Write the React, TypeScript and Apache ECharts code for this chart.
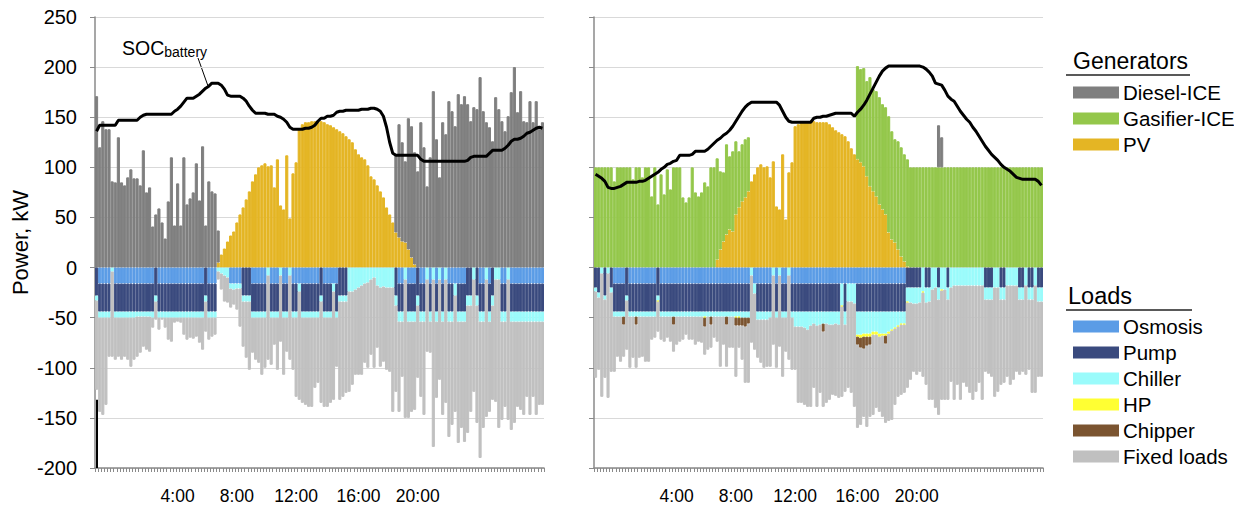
import React, { useEffect, useRef } from "react";
import * as echarts from "echarts";

const FONT = '"Liberation Sans", Arial, Helvetica, sans-serif';

// 144 ten-minute slots per day
const categories = Array.from({ length: 144 }, (_, i) => `${Math.floor(i / 6)}:${String((i % 6) * 10).padStart(2, "0")}`);
const tickLabels = ["4:00", "8:00", "12:00", "16:00", "20:00"];
const tickLabelIndex = [26, 45, 64, 84, 103];

// ---------------- LEFT PANEL ----------------
const leftDiesel = [
  171, 120, 146, 138, 138, 86, 85, 130, 85, 82, 90, 98,
  89, 89, 82, 117, 75, 80, 41, 53, 59, 45, 29, 66,
  110, 42, 84, 42, 110, 63, 69, 75, 104, 67, 121, 42,
  86, 76, 74, 32, 0, 0, 0, 0, 0, 0, 0, 0,
  0, 0, 0, 0, 0, 0, 0, 0, 0, 0, 0, 0,
  0, 0, 0, 0, 0, 0, 0, 0, 0, 0, 0, 0,
  0, 0, 0, 0, 0, 0, 0, 0, 0, 0, 0, 0,
  0, 0, 0, 0, 0, 0, 0, 0, 0, 0, 0, 0,
  78, 113, 99, 81, 131, 131, 112, 96, 145, 120, 81, 110,
  176, 128, 90, 145, 133, 166, 156, 141, 173, 163, 171, 163,
  146, 160, 158, 190, 156, 145, 140, 126, 170, 158, 146, 136,
  151, 175, 200, 155, 176, 146, 145, 166, 145, 166, 138, 145,
];
const leftPV = [
  0, 0, 0, 0, 0, 0, 0, 0, 0, 0, 0, 0,
  0, 0, 0, 0, 0, 0, 0, 0, 0, 0, 0, 0,
  0, 0, 0, 0, 0, 0, 0, 0, 0, 0, 0, 0,
  0, 0, 0, 5, 13, 19, 26, 32, 36, 45, 53, 60,
  68, 76, 86, 93, 100, 102, 104, 101, 102, 80, 108, 62,
  58, 112, 49, 94, 105, 138, 143, 145, 145, 146, 146, 146,
  146, 145, 143, 142, 140, 138, 136, 134, 131, 128, 125, 118,
  113, 110, 108, 102, 91, 88, 82, 76, 70, 60, 53, 45,
  35, 30, 26, 25, 18, 10, 3, 0, 0, 0, 0, 0,
  0, 0, 0, 0, 0, 0, 0, 0, 0, 0, 0, 0,
  0, 0, 0, 0, 0, 0, 0, 0, 0, 0, 0, 0,
  0, 0, 0, 0, 0, 0, 0, 0, 0, 0, 0, 0,
];
const leftSOC = [
  136, 142, 142, 142, 142, 142, 142, 147, 147, 147, 147, 147,
  147, 147, 150, 152, 153, 153, 153, 153, 153, 153, 153, 153,
  153, 156, 158, 161, 165, 169, 169, 169, 171, 173, 176, 179,
  181, 184, 184, 184, 182, 178, 172, 171, 171, 171, 171, 169,
  166, 161, 157, 154, 154, 154, 154, 153, 153, 153, 151, 150,
  148, 145, 140, 138, 138, 138, 138, 139, 139, 140, 142, 146,
  149, 149, 151, 151, 152, 155, 156, 156, 157, 157, 157, 157,
  157, 158, 158, 158, 159, 159, 158, 156, 151, 140, 125, 114,
  112, 112, 112, 112, 112, 112, 112, 112, 108, 106, 106, 106,
  106, 106, 106, 106, 106, 106, 106, 106, 106, 106, 106, 107,
  110, 111, 111, 111, 111, 111, 114, 117, 117, 117, 117, 119,
  122, 126, 128, 128, 129, 131, 134, 135, 137, 139, 140, 139,
];
const leftLoadTotal = [
  122, 144, 147, 137, 89, 89, 92, 89, 92, 89, 92, 99,
  92, 89, 85, 79, 82, 84, 60, 52, 62, 52, 60, 72,
  74, 55, 54, 55, 67, 72, 70, 71, 69, 75, 82, 64,
  72, 69, 67, 12, 22, 34, 35, 40, 37, 42, 59, 79,
  90, 102, 85, 92, 95, 107, 100, 92, 97, 77, 102, 74,
  107, 84, 92, 102, 129, 132, 135, 137, 139, 139, 120, 115,
  135, 139, 139, 135, 132, 99, 132, 129, 125, 124, 117, 107,
  107, 107, 95, 100, 87, 100, 80, 99, 94, 102, 104, 144,
  124, 144, 109, 150, 150, 144, 142, 110, 129, 147, 84, 85,
  179, 130, 112, 147, 135, 169, 157, 144, 175, 160, 174, 165,
  144, 124, 155, 190, 160, 149, 144, 132, 134, 160, 152, 139,
  152, 162, 155, 139, 142, 147, 129, 147, 129, 147, 137, 137,
];
const leftOsmosis = [
  0, 16, 16, 16, 16, 0, 16, 16, 16, 16, 16, 16,
  16, 16, 16, 16, 16, 16, 16, 0, 16, 16, 16, 16,
  16, 16, 16, 16, 16, 16, 16, 16, 16, 16, 16, 0,
  16, 16, 16, 0, 0, 0, 0, 16, 16, 16, 16, 0,
  0, 0, 16, 16, 16, 16, 16, 0, 16, 16, 16, 0,
  16, 16, 0, 16, 16, 16, 16, 16, 16, 16, 16, 16,
  0, 16, 16, 16, 16, 16, 0, 0, 0, 0, 0, 0,
  0, 0, 0, 0, 0, 0, 0, 0, 0, 0, 0, 0,
  0, 16, 16, 0, 16, 16, 16, 0, 16, 16, 0, 16,
  0, 16, 0, 16, 0, 16, 16, 16, 16, 16, 16, 0,
  0, 0, 0, 16, 16, 0, 16, 0, 0, 0, 16, 16,
  0, 16, 16, 16, 16, 16, 16, 16, 16, 16, 16, 16,
];
const leftPump = [
  28, 28, 28, 28, 28, 0, 28, 28, 28, 28, 28, 28,
  28, 28, 28, 28, 28, 28, 28, 28, 28, 28, 28, 28,
  28, 28, 28, 28, 28, 28, 28, 28, 28, 28, 28, 28,
  28, 28, 28, 0, 0, 0, 0, 0, 0, 0, 0, 28,
  28, 28, 28, 28, 28, 28, 28, 0, 28, 28, 28, 0,
  28, 28, 0, 28, 28, 0, 28, 28, 28, 28, 28, 28,
  28, 28, 28, 28, 0, 28, 28, 28, 28, 0, 0, 0,
  0, 0, 0, 0, 0, 0, 0, 0, 0, 0, 0, 0,
  28, 28, 28, 0, 28, 28, 28, 28, 28, 28, 0, 28,
  0, 28, 0, 28, 0, 28, 28, 0, 28, 28, 28, 28,
  28, 0, 28, 28, 28, 0, 28, 28, 0, 0, 28, 28,
  0, 28, 28, 28, 28, 28, 28, 28, 28, 28, 28, 28,
];
const leftChiller = [
  5, 6, 6, 6, 6, 4, 6, 6, 6, 6, 6, 6,
  6, 5, 5, 5, 5, 5, 6, 6, 6, 6, 6, 6,
  6, 6, 6, 6, 6, 6, 6, 6, 6, 6, 6, 6,
  6, 6, 6, 4, 6, 8, 10, 5, 6, 5, 5, 6,
  6, 6, 6, 6, 6, 6, 6, 8, 6, 6, 6, 8,
  6, 6, 8, 6, 6, 8, 6, 6, 6, 6, 6, 6,
  6, 6, 6, 6, 8, 6, 6, 6, 6, 24, 24, 22,
  20, 18, 16, 15, 12, 10, 18, 20, 19, 20, 20, 20,
  10, 10, 10, 12, 10, 10, 10, 10, 10, 10, 12, 10,
  12, 10, 12, 10, 12, 10, 10, 12, 10, 10, 10, 10,
  10, 12, 10, 10, 10, 12, 10, 10, 12, 12, 10, 10,
  12, 10, 10, 10, 10, 10, 10, 10, 10, 10, 10, 10,
];

// ---------------- RIGHT PANEL ----------------
const rightGasifier = [
  100, 100, 100, 100, 100, 100, 86, 100, 100, 100, 100, 100,
  88, 100, 100, 90, 100, 100, 71, 100, 63, 93, 73, 98,
  78, 100, 100, 100, 70, 65, 70, 100, 75, 71, 75, 85,
  81, 100, 100, 101, 78, 69, 90, 73, 80, 73, 56, 57,
  58, 54, 0, 0, 0, 0, 0, 0, 0, 0, 0, 0,
  0, 0, 0, 0, 0, 0, 0, 0, 0, 0, 0, 0,
  0, 0, 0, 0, 0, 0, 0, 0, 0, 0, 0, 0,
  93, 93, 98, 95, 109, 102, 105, 107, 105, 107, 116, 108,
  103, 108, 109, 107, 107, 100, 100, 100, 100, 100, 100, 100,
  100, 100, 100, 100, 100, 100, 100, 100, 100, 100, 100, 100,
  100, 100, 100, 100, 100, 100, 100, 100, 100, 100, 100, 100,
  100, 100, 100, 100, 100, 100, 100, 100, 100, 100, 100, 100,
];
const rightPV = [
  0, 0, 0, 0, 0, 0, 0, 0, 0, 0, 0, 0,
  0, 0, 0, 0, 0, 0, 0, 0, 0, 0, 0, 0,
  0, 0, 0, 0, 0, 0, 0, 0, 0, 0, 0, 0,
  0, 0, 0, 8, 18, 26, 33, 38, 36, 53, 60, 66,
  70, 76, 86, 93, 100, 103, 100, 101, 90, 106, 61, 58,
  113, 48, 95, 105, 141, 143, 145, 146, 146, 146, 146, 145,
  145, 145, 145, 143, 140, 137, 135, 133, 131, 126, 119, 113,
  108, 105, 101, 91, 81, 76, 71, 63, 58, 53, 35, 28,
  25, 18, 11, 6, 1, 0, 0, 0, 0, 0, 0, 0,
  0, 0, 0, 0, 0, 0, 0, 0, 0, 0, 0, 0,
  0, 0, 0, 0, 0, 0, 0, 0, 0, 0, 0, 0,
  0, 0, 0, 0, 0, 0, 0, 0, 0, 0, 0, 0,
];
const rightDiesel = [
  0, 0, 0, 0, 0, 0, 0, 0, 0, 0, 0, 0,
  0, 0, 0, 0, 0, 0, 0, 0, 0, 0, 0, 0,
  0, 0, 0, 0, 0, 0, 0, 0, 0, 0, 0, 0,
  0, 0, 0, 0, 0, 0, 0, 0, 0, 0, 0, 0,
  0, 0, 0, 0, 0, 0, 0, 0, 0, 0, 0, 0,
  0, 0, 0, 0, 0, 0, 0, 0, 0, 0, 0, 0,
  0, 0, 0, 0, 0, 0, 0, 0, 0, 0, 0, 0,
  0, 0, 0, 0, 0, 0, 0, 0, 0, 0, 0, 0,
  0, 0, 0, 0, 0, 0, 0, 0, 0, 0, 0, 0,
  0, 0, 42, 30, 0, 0, 0, 0, 0, 0, 0, 0,
  0, 0, 0, 0, 0, 0, 0, 0, 0, 0, 0, 0,
  0, 0, 0, 0, 0, 0, 0, 0, 0, 0, 0, 0,
];
const rightSOC = [
  93, 91, 89, 86, 80, 79, 79, 80, 81, 83, 85, 85,
  85, 85, 86, 86, 87, 89, 91, 93, 95, 98, 100, 103,
  104, 106, 107, 112, 112, 112, 112, 113, 116, 116, 116, 116,
  118, 121, 124, 127, 129, 132, 134, 137, 141, 146, 151, 156,
  160, 163, 165, 165, 165, 165, 165, 165, 165, 165, 165, 162,
  156, 150, 146, 145, 145, 145, 145, 145, 145, 145, 149, 150,
  150, 151, 151, 152, 153, 154, 154, 154, 154, 154, 154, 151,
  155, 158, 162, 167, 173, 179, 185, 191, 196, 199, 201, 201,
  201, 201, 201, 201, 201, 201, 201, 201, 201, 200, 198, 195,
  191, 184, 183, 182, 177, 171, 168, 166, 161, 156, 152, 148,
  145, 140, 136, 131, 126, 121, 117, 113, 110, 107, 103, 100,
  98, 96, 93, 90, 89, 88, 88, 88, 88, 88, 86, 82,
];
const rightLoadTotal = [
  110, 102, 129, 110, 130, 104, 104, 89, 94, 89, 82, 100,
  90, 100, 90, 89, 94, 94, 72, 70, 64, 72, 74, 70,
  74, 84, 77, 74, 72, 67, 72, 72, 77, 74, 75, 87,
  82, 80, 70, 74, 99, 77, 99, 80, 80, 109, 80, 92,
  115, 115, 75, 82, 90, 95, 100, 99, 99, 77, 100, 79,
  109, 84, 92, 102, 102, 135, 135, 137, 139, 139, 120, 139,
  125, 139, 135, 132, 127, 128, 130, 129, 124, 120, 125, 139,
  160, 157, 149, 159, 149, 147, 140, 144, 149, 155, 153, 152,
  137, 129, 127, 125, 120, 112, 104, 107, 104, 109, 117, 132,
  132, 140, 147, 132, 132, 132, 114, 132, 117, 132, 115, 119,
  125, 132, 124, 115, 132, 104, 106, 109, 129, 124, 117, 115,
  109, 117, 112, 104, 107, 104, 107, 102, 125, 125, 109, 109,
];
const rightOsmosis = [
  0, 0, 0, 0, 0, 0, 16, 16, 16, 16, 0, 16,
  16, 16, 16, 16, 16, 16, 16, 16, 0, 16, 16, 16,
  16, 16, 16, 16, 16, 16, 16, 16, 16, 16, 16, 16,
  16, 16, 16, 16, 16, 16, 16, 16, 16, 16, 16, 16,
  16, 16, 0, 16, 16, 16, 16, 16, 16, 0, 16, 0,
  16, 16, 0, 16, 16, 16, 16, 16, 16, 16, 16, 16,
  16, 16, 16, 16, 16, 16, 16, 16, 16, 16, 16, 16,
  16, 16, 16, 16, 16, 16, 16, 16, 16, 16, 16, 16,
  16, 16, 16, 16, 0, 0, 0, 0, 0, 0, 0, 0,
  0, 0, 0, 0, 0, 0, 0, 0, 0, 0, 0, 0,
  0, 0, 0, 0, 0, 0, 0, 0, 0, 0, 0, 0,
  0, 0, 0, 0, 0, 0, 0, 0, 0, 0, 0, 0,
];
const rightPump = [
  20, 25, 0, 28, 0, 20, 28, 28, 28, 28, 28, 28,
  28, 28, 28, 28, 28, 28, 28, 28, 28, 28, 28, 28,
  28, 28, 28, 28, 28, 28, 28, 28, 28, 28, 28, 28,
  28, 28, 28, 28, 28, 28, 28, 28, 28, 28, 28, 28,
  28, 28, 0, 0, 28, 28, 28, 28, 28, 0, 28, 0,
  28, 28, 0, 28, 28, 28, 28, 28, 28, 28, 28, 28,
  28, 28, 28, 28, 28, 28, 28, 0, 28, 0, 0, 0,
  28, 28, 28, 28, 28, 28, 28, 28, 28, 28, 28, 28,
  28, 28, 28, 28, 20, 20, 20, 20, 20, 0, 20, 20,
  0, 0, 20, 0, 0, 20, 0, 0, 0, 0, 0, 0,
  0, 0, 0, 0, 0, 20, 20, 20, 0, 0, 20, 20,
  0, 0, 0, 0, 20, 20, 0, 20, 20, 0, 20, 20,
];
const rightChiller = [
  4, 5, 6, 4, 6, 5, 5, 5, 5, 5, 5, 5,
  5, 5, 5, 5, 5, 5, 5, 5, 5, 5, 5, 5,
  5, 5, 5, 5, 5, 5, 5, 5, 5, 5, 5, 5,
  5, 5, 5, 5, 5, 5, 5, 5, 5, 5, 5, 6,
  6, 6, 8, 10, 8, 8, 8, 8, 6, 8, 6, 8,
  6, 6, 8, 6, 15, 15, 15, 16, 18, 14, 12, 14,
  13, 12, 12, 13, 13, 12, 13, 22, 13, 18, 18, 20,
  23, 23, 22, 22, 22, 20, 20, 22, 22, 22, 20, 18,
  16, 14, 12, 12, 14, 15, 16, 16, 15, 24, 15, 14,
  22, 20, 12, 22, 22, 12, 20, 18, 18, 18, 18, 18,
  18, 18, 18, 18, 18, 12, 12, 12, 20, 20, 12, 12,
  18, 18, 18, 18, 12, 12, 18, 12, 12, 18, 14, 14,
];
const rightHP = [
  0, 0, 0, 0, 0, 0, 0, 0, 0, 0, 0, 0,
  0, 0, 0, 0, 0, 0, 0, 0, 1, 0, 0, 0,
  0, 0, 0, 0, 0, 0, 0, 0, 0, 0, 0, 1,
  0, 0, 0, 0, 0, 0, 0, 0, 0, 1, 1, 0,
  0, 0, 0, 0, 0, 0, 0, 0, 0, 0, 0, 0,
  0, 0, 0, 0, 0, 0, 0, 0, 0, 0, 0, 0,
  0, 0, 0, 0, 0, 0, 0, 1, 0, 0, 0, 0,
  2, 3, 3, 3, 3, 3, 3, 3, 2, 2, 2, 1,
  1, 1, 1, 1, 1, 0, 0, 0, 0, 1, 0, 0,
  0, 0, 0, 1, 0, 0, 0, 0, 0, 0, 0, 0,
  0, 0, 0, 0, 0, 0, 0, 0, 0, 0, 0, 0,
  0, 0, 0, 0, 0, 0, 0, 0, 0, 0, 0, 0,
];
const rightChipper = [
  0, 0, 0, 0, 0, 0, 0, 0, 0, 8, 0, 0,
  0, 8, 0, 0, 0, 0, 0, 0, 0, 0, 0, 0,
  0, 8, 0, 0, 0, 0, 0, 0, 0, 0, 0, 9,
  0, 8, 0, 0, 0, 0, 8, 0, 0, 8, 8, 8,
  9, 6, 0, 0, 0, 0, 0, 0, 0, 0, 0, 0,
  0, 0, 0, 0, 0, 0, 0, 0, 0, 0, 0, 0,
  0, 8, 0, 0, 0, 0, 0, 0, 0, 0, 0, 0,
  8, 10, 12, 9, 8, 0, 0, 0, 0, 8, 0, 0,
  0, 0, 0, 0, 0, 0, 0, 0, 0, 0, 0, 0,
  0, 0, 0, 0, 0, 0, 0, 0, 0, 0, 0, 0,
  0, 0, 0, 0, 0, 0, 0, 0, 0, 0, 0, 0,
  0, 0, 0, 0, 0, 0, 0, 0, 0, 0, 0, 0,
];

const COLORS: Record<string, string> = {
  "Diesel-ICE": "#7f7f7f",
  "Gasifier-ICE": "#94c74b",
  PV: "#e4b524",
  Osmosis: "#5b9ce6",
  Pump: "#3a4a7e",
  Chiller: "#9afbfb",
  HP: "#ffff33",
  Chipper: "#7b5430",
  "Fixed loads": "#c0c0c0",
};

const pos = (a: number[]) => a.map((v) => (v ? v : "-"));
const neg = (a: number[]) => a.map((v) => (v ? -v : "-"));
const fixedPart = (total: number[], parts: number[][]) =>
  total.map((t, i) => Math.max(0, t - parts.reduce((s, p) => s + p[i], 0)));

function bar(name: string, data: any[], gi: number) {
  const c = COLORS[name];
  return {
    name,
    type: "bar",
    xAxisIndex: gi,
    yAxisIndex: gi,
    stack: "s" + gi,
    data,
    barCategoryGap: "0%",
    barGap: "0%",
    silent: true,
    itemStyle: { color: c, borderColor: c, borderWidth: 1 },
    emphasis: { disabled: true },
  };
}

function socLine(data: number[], gi: number, extra: any = {}) {
  return {
    name: "SOC",
    type: "line",
    xAxisIndex: gi,
    yAxisIndex: gi,
    data,
    symbol: "none",
    silent: true,
    z: 10,
    lineStyle: { color: "#000", width: 3 },
    ...extra,
  };
}

export default function App() {
  const ref = useRef<HTMLDivElement>(null);
  useEffect(() => {
    if (!ref.current) return;
    const chart = echarts.init(ref.current, undefined, { renderer: "svg" });

    const leftFixed = fixedPart(leftLoadTotal, [leftOsmosis, leftPump, leftChiller]);
    const rightFixed = fixedPart(rightLoadTotal, [rightOsmosis, rightPump, rightChiller, rightHP, rightChipper]);

    const xAxes = [0, 1].map((i) => ({
      type: "category",
      gridIndex: i,
      data: categories,
      boundaryGap: true,
      axisLine: { onZero: false, lineStyle: { color: "#8a8a8a", width: 1.5 } },
      axisTick: { show: true, interval: 0, length: 4, lineStyle: { color: "#8a8a8a" } },
      axisLabel: {
        interval: (idx: number) => tickLabelIndex.includes(idx),
        formatter: (_v: string, idx: number) => {
          const k = tickLabelIndex.indexOf(idx);
          return k >= 0 ? tickLabels[k] : "";
        },
        fontSize: 17.5,
        fontFamily: FONT,
        color: "#000",
        margin: 19,
      },
      splitLine: { show: false },
    }));

    const yAxes = [0, 1].map((i) => ({
      type: "value",
      gridIndex: i,
      min: -200,
      max: 250,
      interval: 50,
      axisLine: { show: true, lineStyle: { color: "#8a8a8a", width: 1.5 } },
      axisTick: { show: true, length: 5, lineStyle: { color: "#8a8a8a" } },
      axisLabel: { show: i === 0, fontSize: 20, fontFamily: FONT, color: "#000", margin: 18 },
      splitLine: { show: true, lineStyle: { color: "#d9d9d9", width: 1 } },
      name: i === 0 ? "Power, kW" : "",
      nameLocation: "middle",
      nameRotate: 90,
      nameGap: 64,
      nameTextStyle: { fontSize: 22, fontFamily: FONT, color: "#000" },
    }));

    const series: any[] = [
      // left
      bar("PV", pos(leftPV), 0),
      bar("Diesel-ICE", pos(leftDiesel), 0),
      bar("Osmosis", neg(leftOsmosis), 0),
      bar("Pump", neg(leftPump), 0),
      bar("Chiller", neg(leftChiller), 0),
      bar("Fixed loads", neg(leftFixed), 0),
      socLine(leftSOC, 0, {
        markLine: {
          silent: true,
          symbol: ["none", "none"],
          label: { show: false },
          lineStyle: { color: "#000", width: 2, type: "solid" },
          data: [[{ coord: [categories[0], -132] }, { coord: [categories[0], -200] }]],
        },
      }),
      // right
      bar("PV", pos(rightPV), 1),
      bar("Gasifier-ICE", pos(rightGasifier), 1),
      bar("Diesel-ICE", pos(rightDiesel), 1),
      bar("Osmosis", neg(rightOsmosis), 1),
      bar("Pump", neg(rightPump), 1),
      bar("Chiller", neg(rightChiller), 1),
      bar("HP", neg(rightHP), 1),
      bar("Chipper", neg(rightChipper), 1),
      bar("Fixed loads", neg(rightFixed), 1),
      socLine(rightSOC, 1),
    ];

    const legendBase = {
      orient: "vertical",
      left: 1073,
      padding: 0,
      icon: "rect",
      itemWidth: 44,
      itemHeight: 10,
      itemGap: 5,
      selectedMode: false,
      textStyle: { fontSize: 20.5, fontFamily: FONT, color: "#000", lineHeight: 20 },
    };

    chart.setOption({
      animation: false,
      backgroundColor: "#fff",
      textStyle: { fontFamily: FONT },
      grid: [
        { left: 95, top: 17, width: 449, height: 451, containLabel: false },
        { left: 594, top: 17, width: 449, height: 451, containLabel: false },
      ],
      xAxis: xAxes,
      yAxis: yAxes,
      legend: [
        { ...legendBase, top: 82, data: ["Diesel-ICE", "Gasifier-ICE", "PV"] },
        { ...legendBase, top: 316, data: ["Osmosis", "Pump", "Chiller", "HP", "Chipper", "Fixed loads"] },
      ],
      graphic: [
        { type: "text", x: 1073, y: 61, style: { text: "Generators", fontSize: 23, fontFamily: FONT, fill: "#000", verticalAlign: "middle" } },
        { type: "line", shape: { x1: 1066, y1: 75, x2: 1190, y2: 75 }, style: { stroke: "#222", lineWidth: 1.5 } },
        { type: "text", x: 1068, y: 296, style: { text: "Loads", fontSize: 23.5, fontFamily: FONT, fill: "#000", verticalAlign: "middle" } },
        { type: "line", shape: { x1: 1066, y1: 310, x2: 1192, y2: 310 }, style: { stroke: "#222", lineWidth: 1.5 } },
        {
          type: "text",
          x: 122,
          y: 36,
          style: {
            text: "{a|SOC}{b|battery}",
            fontFamily: FONT,
            rich: {
              a: { fontSize: 19.5, fontFamily: FONT, fill: "#000", color: "#000" },
              b: { fontSize: 14, fontFamily: FONT, fill: "#000", color: "#000", padding: [9, 0, 0, 0] },
            },
          },
        },
        { type: "line", shape: { x1: 198, y1: 58, x2: 208, y2: 86 }, style: { stroke: "#000", lineWidth: 1 } },
      ],
      series,
    });
    return () => chart.dispose();
  }, []);
  return <div ref={ref} style={{ position: "absolute", left: 0, top: 0, width: 1234, height: 507 }} />;
}
